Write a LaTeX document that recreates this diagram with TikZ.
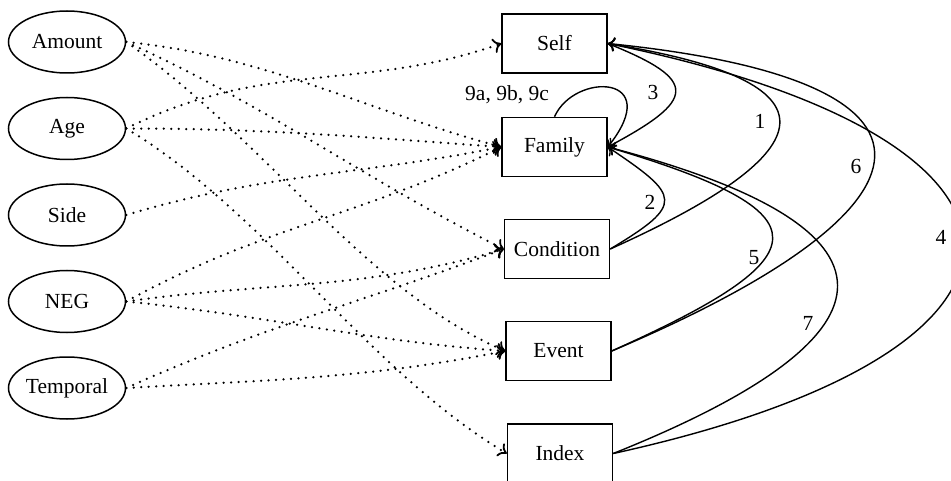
\documentclass[tikz,border=0pt]{standalone}
\usepackage{fontspec}
\setmainfont{Liberation Serif}
\usetikzlibrary{arrows.meta,shapes.geometric}
\begin{document}
\begin{tikzpicture}[x=1pt,y=-1pt,
  every node/.style={font=\fontsize{21.5}{26}\selectfont},
  attr/.style={draw,ellipse,line width=1.5pt,minimum width=117pt,minimum height=62pt,inner sep=0pt},
  cls/.style={draw,rectangle,line width=1.5pt,minimum width=105pt,minimum height=59pt,inner sep=0pt},
  dotarrow/.style={line width=2.5pt,line cap=round,dash pattern=on 0pt off 7.5pt,
    -{To[length=8pt,width=15pt,line width=1.8pt]}},
  rel/.style={line width=1.4pt,-{To[length=7pt,width=14pt,line width=1.4pt]}},
  lbl/.style={inner sep=0pt}]
\useasboundingbox (0,0) rectangle (951,481);

\node[attr] (amount) at (67,42) {Amount};
\node[attr] (age) at (67,128.5) {Age};
\node[attr] (side) at (67,215) {Side};
\node[attr] (neg) at (67,301.5) {NEG};
\node[attr] (temporal) at (67,388) {Temporal};

\node[cls] (self) at (554.5,43.5) {Self};
\node[cls] (family) at (554.5,147) {Family};
\node[cls] (condition) at (557,249) {Condition};
\node[cls] (event) at (558.5,351) {Event};
\node[cls] (index) at (560,453.5) {Index};

% dotted attribute edges
\draw[dotarrow] (amount.east) .. controls +(140,14) and +(-140,-38) .. (family.west);
\draw[dotarrow] (amount.east) .. controls +(140,63) and +(-140,-70) .. (condition.west);
\draw[dotarrow] (amount.east) .. controls +(140,98) and +(-140,-60) .. (event.west);
\draw[dotarrow] (age.east) .. controls +(140,-70) and +(-140,49) .. (self.west);
\draw[dotarrow] (age.east) .. controls +(140,0) and +(-140,-10) .. (family.west);
\draw[dotarrow] (age.east) .. controls +(140,84) and +(-140,-84) .. (index.west);
\draw[dotarrow] (side.east) .. controls +(140,-42) and +(-140,28) .. (family.west);
\draw[dotarrow] (neg.east) .. controls +(140,-77) and +(-140,70) .. (family.west);
\draw[dotarrow] (neg.east) .. controls +(140,-20) and +(-140,42) .. (condition.west);
\draw[dotarrow] (neg.east) .. controls +(140,14) and +(-140,-10) .. (event.west);
\draw[dotarrow] (temporal.east) .. controls +(140,-63) and +(-140,53) .. (condition.west);
\draw[dotarrow] (temporal.east) .. controls +(140,-8) and +(-140,28) .. (event.west);

% solid relation edges
\draw[rel] (condition.east) .. controls +(218,-98) and +(237,38) .. (self.east);
\draw[rel] (condition.east) .. controls +(75,-45) and +(73,49) .. (family.east);
\draw[rel] (self.east) .. controls +(93,37) and +(88,-47) .. (family.east);
\draw[rel] (index.east) .. controls +(470,-103) and +(471,96) .. (self.east);
\draw[rel] (event.east) .. controls +(212,-95) and +(222,66) .. (family.east);
\draw[rel] (event.east) .. controls +(340,-144) and +(366,37) .. (self.east);
\draw[rel] (index.east) .. controls +(300,-120) and +(305,80) .. (family.east);
\draw[rel] (family.north) .. controls +(20,-45) and +(58,-73) .. (family.east);

\node[lbl] (l1) at (760,121) {1};
\node[lbl] (l2) at (650,202) {2};
\node[lbl] (l3) at (653,92) {3};
\node[lbl] (l4) at (941,237) {4};
\node[lbl] (l5) at (754,258) {5};
\node[lbl] (l6) at (856,166) {6};
\node[lbl] (l7) at (808,323) {7};
\node[lbl,anchor=east] (l9) at (549,95) {9a, 9b, 9c};
\end{tikzpicture}
\end{document}
